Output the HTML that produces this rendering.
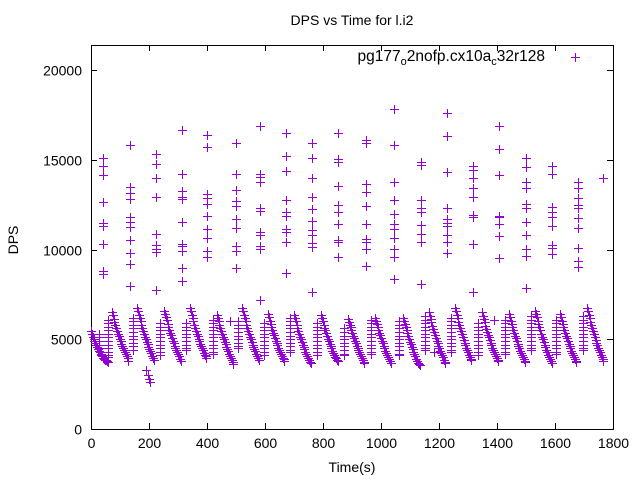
<!DOCTYPE html>
<html><head><meta charset="utf-8"><style>
html,body{margin:0;padding:0;background:#fff;}
svg{display:block;font-family:"Liberation Sans",sans-serif;}
</style></head><body>
<svg id="chart" width="640" height="480" viewBox="0 0 640 480">
<rect width="640" height="480" fill="#fff"/>
<text x="352" y="25" font-size="14" text-anchor="middle">DPS vs Time for l.i2</text>
<text x="352" y="472" font-size="14" text-anchor="middle">Time(s)</text>
<text x="18" y="240" font-size="14" text-anchor="middle" transform="rotate(-90 18 240)">DPS</text>
<g id="axes" shape-rendering="crispEdges"></g>
<g id="points" shape-rendering="crispEdges"></g>
<g>
<text x="545" y="61" font-size="15.5" text-anchor="end">pg177<tspan font-size="11" dy="4">o</tspan><tspan dy="-4">2nofp.cx10a</tspan><tspan font-size="11" dy="4">c</tspan><tspan dy="-4">32r128</tspan></text>
<g stroke="#9400d3" stroke-width="1" shape-rendering="crispEdges"><line x1="571" y1="57.5" x2="580" y2="57.5"/><line x1="575.5" y1="53" x2="575.5" y2="62"/></g>
</g>
</svg>
<script>
const xTicks = [0,200,400,600,800,1000,1200,1400,1600,1800];
const yTicks = [0,5000,10000,15000,20000];
const colTimes = [41,134,224,314,400,500,583,672,762,852,948,1045,1138,1228,1317,1407,1500,1590,1679,1766];
const colValues = [
[15115,14670,14150,12630,11490,11310,10320,8615,8800],
[15820,13500,13160,12800,11810,11550,11240,10530,9790,9180,7970],
[15300,14750,13970,12910,10850,10250,10030,9880,7740],
[16660,14210,13260,12910,12810,11530,10310,10210,9930,8970,8240],
[16380,15690,13070,12890,12520,11850,11120,10660,9920,9570],
[15920,14190,13300,12700,12410,11680,11180,10180,9930,8970],
[16870,14210,14060,13780,12300,12140,10970,10790,10210,10030,7190],
[16500,15220,14380,12740,12110,11850,11130,10960,10420,8680],
[15920,15080,13970,12930,12240,11570,11090,10810,10360,10160,7620],
[16500,15030,14890,13540,12480,12110,11420,10530,10400,9600],
[16100,15920,13640,13190,12410,11410,10590,10440,10010,9070],
[17810,15800,13740,12740,11980,11410,11120,10620,10010,9600,8350],
[14890,14690,12740,12290,12110,11370,10850,10400,8060],
[17590,16310,14300,12290,11680,11460,11310,10810,10420,9790],
[14650,14430,14000,13410,12910,11920,11830,10310,7660],
[16870,15600,14150,11880,11830,11410,10750,9550],
[15080,14580,13740,13410,12550,12290,11510,10810,10030,9660,7840],
[14670,14210,12350,12110,11830,11310,10250,10100,9730],
[13740,13450,12850,12480,12330,11740,11180,10100,9360,9030],
[13990]
];
const toothStarts = [0,72,159,252,341,434,521,610,700,793,886,979,1076,1165,1255,1348,1441,1531,1617,1710];
const toothValues = [
[5450,5300,5150,5020,4900,4780,4670,4560,4460,4370,4280,4200,4120,4050,3980,3920,3870,3820,3780,3750],
[6500,6330,6150,5980,5800,5640,5480,5320,5170,5030,4890,4760,4630,4510,4390,4280,4170,4060,3950,3800],
[6750,6560,6370,6180,5990,5810,5630,5460,5300,5140,4990,4850,4710,4580,4450,4330,4210,4090,3980,3850],
[6600,6410,6230,6050,5870,5700,5530,5370,5210,5060,4920,4780,4650,4520,4400,4280,4160,4040,3920,3780],
[6750,6550,6360,6170,5990,5810,5640,5480,5320,5170,5020,4880,4750,4620,4500,4380,4260,4150,4050,3950],
[6350,6170,5990,5810,5640,5470,5310,5150,5000,4860,4720,4580,4450,4320,4200,4080,3960,3840,3720,3600],
[6750,6560,6370,6180,6000,5820,5640,5470,5300,5140,4990,4840,4700,4570,4440,4320,4200,4080,3960,3850],
[6400,6220,6040,5870,5700,5530,5370,5220,5070,4930,4790,4660,4540,4420,4300,4190,4080,3980,3880,3800],
[6350,6170,5990,5810,5640,5470,5300,5140,4990,4840,4700,4560,4430,4300,4180,4060,3940,3830,3730,3650],
[6350,6170,5990,5820,5650,5490,5330,5180,5030,4890,4750,4620,4490,4370,4250,4140,4030,3930,3850,3780],
[6150,5980,5820,5660,5500,5350,5200,5050,4910,4770,4640,4510,4390,4270,4160,4050,3940,3840,3760,3700],
[6200,6030,5860,5690,5530,5370,5210,5060,4910,4770,4630,4500,4370,4240,4120,4000,3890,3790,3700,3650],
[6200,6020,5840,5670,5500,5330,5170,5010,4860,4710,4570,4430,4300,4170,4040,3920,3800,3690,3600,3550],
[6500,6310,6120,5940,5760,5580,5410,5240,5080,4930,4780,4640,4500,4370,4240,4110,3990,3870,3760,3700],
[6750,6550,6350,6160,5970,5790,5610,5440,5270,5110,4960,4810,4670,4530,4400,4270,4150,4030,3920,3850],
[6500,6310,6120,5940,5760,5590,5420,5260,5100,4950,4810,4670,4540,4410,4290,4170,4050,3940,3860,3800],
[6400,6220,6040,5860,5690,5520,5360,5200,5050,4900,4760,4620,4490,4360,4240,4120,4000,3890,3800,3750],
[6600,6410,6220,6030,5850,5670,5490,5320,5150,4990,4840,4690,4550,4410,4280,4150,4020,3900,3790,3700],
[6400,6220,6040,5860,5690,5520,5360,5200,5050,4900,4760,4620,4490,4360,4240,4120,4000,3890,3800,3750],
[6750,6550,6350,6160,5970,5790,5610,5440,5270,5110,4960,4810,4670,4530,4400,4270,4140,4010,3900,3800]
];
const stackTimes = [28,57,144,237,326,419,506,595,685,778,871,964,1061,1150,1240,1333,1426,1516,1602,1695];
const stackValues = [
[5300,5100,4900,4700,4500],
[6100,5900,5700,5500,5300,5100,4900,4700,4500,4300,4100,4000],
[6200,6000,5800,5600,5400,5200,5000,4800,4600,4400],
[5900,5700,5500,5300,5100,4900,4700,4500,4300,4100],
[5900,5700,5500,5300,5100,4900,4700,4500,4400],
[6100,5900,5700,5500,5300,5100,4900,4700,4500,4300,4200],
[6000,5800,5600,5400,5200,5000,4800,4600,4500],
[5900,5700,5500,5300,5100,4900,4700,4500,4300,4100],
[6200,6000,5800,5600,5400,5200,5000,4800,4600,4400,4300],
[5900,5700,5500,5300,5100,4900,4700,4500,4300,4100],
[5600,5400,5200,5000,4800,4600,4400,4200,4100],
[6100,5900,5700,5500,5300,5100,4900,4700,4500,4300,4200],
[6000,5800,5600,5400,5200,5000,4800,4600,4400,4200,4100],
[6300,6100,5900,5700,5500,5300,5100,4900,4700,4500,4400],
[6200,6000,5800,5600,5400,5200,5000,4800,4600,4400,4300],
[5900,5700,5500,5300,5100,4900,4700,4500,4300,4100],
[6100,5900,5700,5500,5300,5100,4900,4700,4500,4300,4200],
[6300,6100,5900,5700,5500,5300,5100,4900,4700,4500,4400],
[6100,5900,5700,5500,5300,5100,4900,4700,4500,4300,4200],
[6300,6100,5900,5700,5500,5300,5100,4900,4700,4500,4400]
];
const extraTimes = [190,197,200,203,480,1183,1390];
const extraValues = [3300,3000,2800,2600,6000,4300,6100];

const X0=91, X1=613, Y0=429, Y1=70, TOP=45;
const xScale = t => X0 + (t/1800)*(X1-X0);
const yScale = v => Y0 - (v/20000)*(Y0-Y1);
const NS="http://www.w3.org/2000/svg";
const axes=document.getElementById('axes');
const pts=document.getElementById('points');
function line(g,x1,y1,x2,y2,c){const l=document.createElementNS(NS,'line');l.setAttribute('x1',x1);l.setAttribute('y1',y1);l.setAttribute('x2',x2);l.setAttribute('y2',y2);l.setAttribute('stroke',c);l.setAttribute('stroke-width','1');g.appendChild(l);return l;}
const border=document.createElementNS(NS,'rect');


border.setAttribute('x',X0+0.5);border.setAttribute('y',TOP+0.5);border.setAttribute('width',X1-X0);border.setAttribute('height',Y0-TOP);
border.setAttribute('fill','none');border.setAttribute('stroke','#000');
axes.appendChild(border);
xTicks.forEach(t=>{
  const x=Math.round(xScale(t))+0.5;
  line(axes,x,Y0,x,Y0-6,'#000');line(axes,x,TOP,x,TOP+6,'#000');
  const tx=document.createElementNS(NS,'text');
  
  
  tx.setAttribute('x',x);tx.setAttribute('y',Y0+19);tx.setAttribute('font-size','14');tx.setAttribute('text-anchor','middle');
  tx.textContent=t;axes.appendChild(tx);
});
yTicks.forEach(v=>{
  const y=Math.round(yScale(v))+0.5;
  line(axes,X0,y,X0+6,y,'#000');line(axes,X1,y,X1-6,y,'#000');
  const tx=document.createElementNS(NS,'text');
  
  
  tx.setAttribute('x',X0-9);tx.setAttribute('y',y+5);tx.setAttribute('font-size','14');tx.setAttribute('text-anchor','end');
  tx.textContent=v;axes.appendChild(tx);
});
function plus(t,v){
  const x=Math.round(xScale(t))+0.5, y=Math.round(yScale(v))+0.5;
  const g=document.createElementNS(NS,'g');
  
  
  line(g,x-4.5,y,x+4.5,y,'#9400d3');line(g,x,y-4.5,x,y+4.5,'#9400d3');
  pts.appendChild(g);
}
colTimes.forEach((t,i)=>colValues[i].forEach(v=>plus(t,v)));
toothStarts.forEach((t,i)=>toothValues[i].forEach((v,k)=>plus(t+k*3,v)));
stackTimes.forEach((t,i)=>stackValues[i].forEach(v=>plus(t,v)));
extraTimes.forEach((t,i)=>plus(t,extraValues[i]));
</script>
</body></html>
